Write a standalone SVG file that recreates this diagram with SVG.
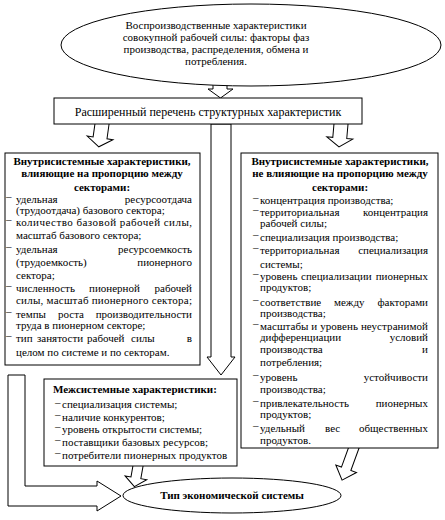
<svg xmlns="http://www.w3.org/2000/svg" width="445" height="520" viewBox="0 0 445 520">
<style>
.t{font-family:"Liberation Serif","Times New Roman",serif;font-size:11px;fill:#000}
.b{font-weight:bold}
.m{text-anchor:middle}
.e{text-anchor:end}
.sh{fill:#fff;stroke:#000;stroke-width:1}
</style>
<defs>
<polygon id="sa" points="-7,-4 -7,14 -13,14 0,23 13,14 7,14 7,-4"/>
</defs>
<rect width="445" height="520" fill="#fff"/>
<g id="connectors" class="sh">
<polygon points="213,78 213,89 208,89 220.5,98 233,89 227,89 227,78"/>
<polygon points="211,124 211,357 207,357 221,375 235,357 231,357 231,124"/>
<use href="#sa" transform="translate(102,124) rotate(8)"/>
<use href="#sa" transform="translate(341,124) rotate(5)"/>
<polygon points="8,375 25,375 25,486 97,486 97,481 121,496 97,511 97,506 8,506"/>
<polygon points="-5,-4 -5,12 -11,12 0,21 11,12 5,12 5,-4" transform="translate(138,466) rotate(10)"/>
<polygon points="-5,-4 -5,20 -11,20 0,32 11,20 5,20 5,-4" transform="translate(353,450) rotate(20)"/>
</g>
<g id="source">
<ellipse class="sh" cx="251" cy="45" rx="190" ry="41"/>
<text class="t m" x="216" y="29">Воспроизводственные характеристики</text>
<text class="t m" x="216" y="41">совокупной рабочей силы: факторы фаз</text>
<text class="t m" x="216" y="53">производства, распределения, обмена и</text>
<text class="t m" x="216" y="65">потребления.</text>
</g>
<g id="list">
<rect class="sh" x="54" y="98" width="308" height="26"/>
<text class="t m" x="208" y="116" style="font-size:12px">Расширенный перечень структурных характеристик</text>
</g>
<g id="left-box">
<rect class="sh" x="5" y="153" width="195" height="212"/>
<text class="t b m" x="102" y="165">Внутрисистемные характеристики,</text>
<text class="t b m" x="102" y="177">влияющие на пропорцию между</text>
<text class="t b m" x="102" y="191">секторами:</text>
<text class="t" x="6" y="200">–<tspan x="16" dy="3">удельная</tspan></text><text class="t e" x="192" y="203">ресурсоотдача</text>
<text class="t" x="16" y="214">(трудоотдача) базового сектора;</text>
<text class="t" x="6" y="223">–<tspan x="16" dy="3" textLength="176" lengthAdjust="spacing">количество базовой рабочей силы,</tspan></text>
<text class="t" x="16" y="239">масштаб базового сектора;</text>
<text class="t" x="6" y="250">–<tspan x="16" dy="3">удельная</tspan></text><text class="t e" x="192" y="253">ресурсоемкость</text>
<text class="t" x="16" y="266">(трудоемкость)</text><text class="t e" x="192" y="266">пионерного</text>
<text class="t" x="16" y="279">сектора;</text>
<text class="t" x="6" y="289">–<tspan x="16" dy="3">численность</tspan></text><text class="t" x="89" y="292">пионерной</text><text class="t e" x="192" y="292">рабочей</text>
<text class="t" x="16" y="304" textLength="176" lengthAdjust="spacing">силы, масштаб пионерного сектора;</text>
<text class="t" x="6" y="315">–<tspan x="16" dy="3">темпы</tspan></text><text class="t" x="58" y="318">роста</text><text class="t e" x="192" y="318">производительности</text>
<text class="t" x="16" y="329">труда в пионерном секторе;</text>
<text class="t" x="6" y="339">–<tspan x="16" dy="3">тип</tspan></text><text class="t" x="37" y="342">занятости</text><text class="t" x="87" y="342">рабочей</text><text class="t" x="131" y="342">силы</text><text class="t e" x="192" y="342">в</text>
<text class="t" x="16" y="356">целом по системе и по секторам.</text>
</g>
<g id="right-box">
<rect class="sh" x="241" y="153" width="197" height="295"/>
<text class="t b m" x="340" y="165">Внутрисистемные характеристики,</text>
<text class="t b m" x="340" y="177">не влияющие на пропорцию между</text>
<text class="t b m" x="340" y="191">секторами:</text>
<text class="t" x="253" y="201">–<tspan x="260" dy="3">концентрация производства;</tspan></text>
<text class="t" x="253" y="213">–<tspan x="260" dy="3">территориальная</tspan></text><text class="t e" x="428" y="216">концентрация</text>
<text class="t" x="260" y="227">рабочей силы;</text>
<text class="t" x="253" y="238">–<tspan x="260" dy="3">специализация производства;</tspan></text>
<text class="t" x="253" y="251">–<tspan x="260" dy="3">территориальная</tspan></text><text class="t e" x="428" y="254">специализация</text>
<text class="t" x="260" y="268">системы;</text>
<text class="t" x="253" y="277">–<tspan x="260" dy="3">уровень</tspan></text><text class="t" x="301" y="280">специализации</text><text class="t e" x="428" y="280">пионерных</text>
<text class="t" x="260" y="291">продуктов;</text>
<text class="t" x="253" y="303">–<tspan x="260" dy="3">соответствие</tspan></text><text class="t" x="334" y="306">между</text><text class="t e" x="428" y="306">факторами</text>
<text class="t" x="260" y="317">производства;</text>
<text class="t" x="253" y="327">–<tspan x="260" dy="3" textLength="168" lengthAdjust="spacing">масштабы и уровень неустранимой</tspan></text>
<text class="t" x="260" y="341">дифференциации</text><text class="t e" x="428" y="341">условий</text>
<text class="t" x="260" y="353">производства</text><text class="t e" x="428" y="353">и</text>
<text class="t" x="260" y="366">потребления;</text>
<text class="t" x="253" y="378">–<tspan x="260" dy="3">уровень</tspan></text><text class="t e" x="428" y="381">устойчивости</text>
<text class="t" x="260" y="393">производства;</text>
<text class="t" x="253" y="404">–<tspan x="260" dy="3">привлекательность</tspan></text><text class="t e" x="428" y="407">пионерных</text>
<text class="t" x="260" y="418">продуктов;</text>
<text class="t" x="253" y="429">–<tspan x="260" dy="3">удельный</tspan></text><text class="t" x="325" y="432">вес</text><text class="t e" x="428" y="432">общественных</text>
<text class="t" x="260" y="444">продуктов.</text>
</g>
<g id="inter-box">
<rect class="sh" x="44" y="379" width="193" height="87"/>
<text class="t b" x="53" y="393">Межсистемные характеристики:</text>
<text class="t" x="55" y="406">–<tspan x="62" dy="2">специализация системы;</tspan></text>
<text class="t" x="55" y="418">–<tspan x="62" dy="3">наличие конкурентов;</tspan></text>
<text class="t" x="55" y="430">–<tspan x="62" dy="3">уровень открытости системы;</tspan></text>
<text class="t" x="55" y="443">–<tspan x="62" dy="3">поставщики базовых ресурсов;</tspan></text>
<text class="t" x="55" y="456">–<tspan x="62" dy="3">потребители пионерных продуктов</tspan></text>
</g>
<g id="result">
<ellipse class="sh" cx="232" cy="495.5" rx="109" ry="17.5"/>
<text class="t b m" x="232" y="499">Тип экономической системы</text>
</g>
</svg>
